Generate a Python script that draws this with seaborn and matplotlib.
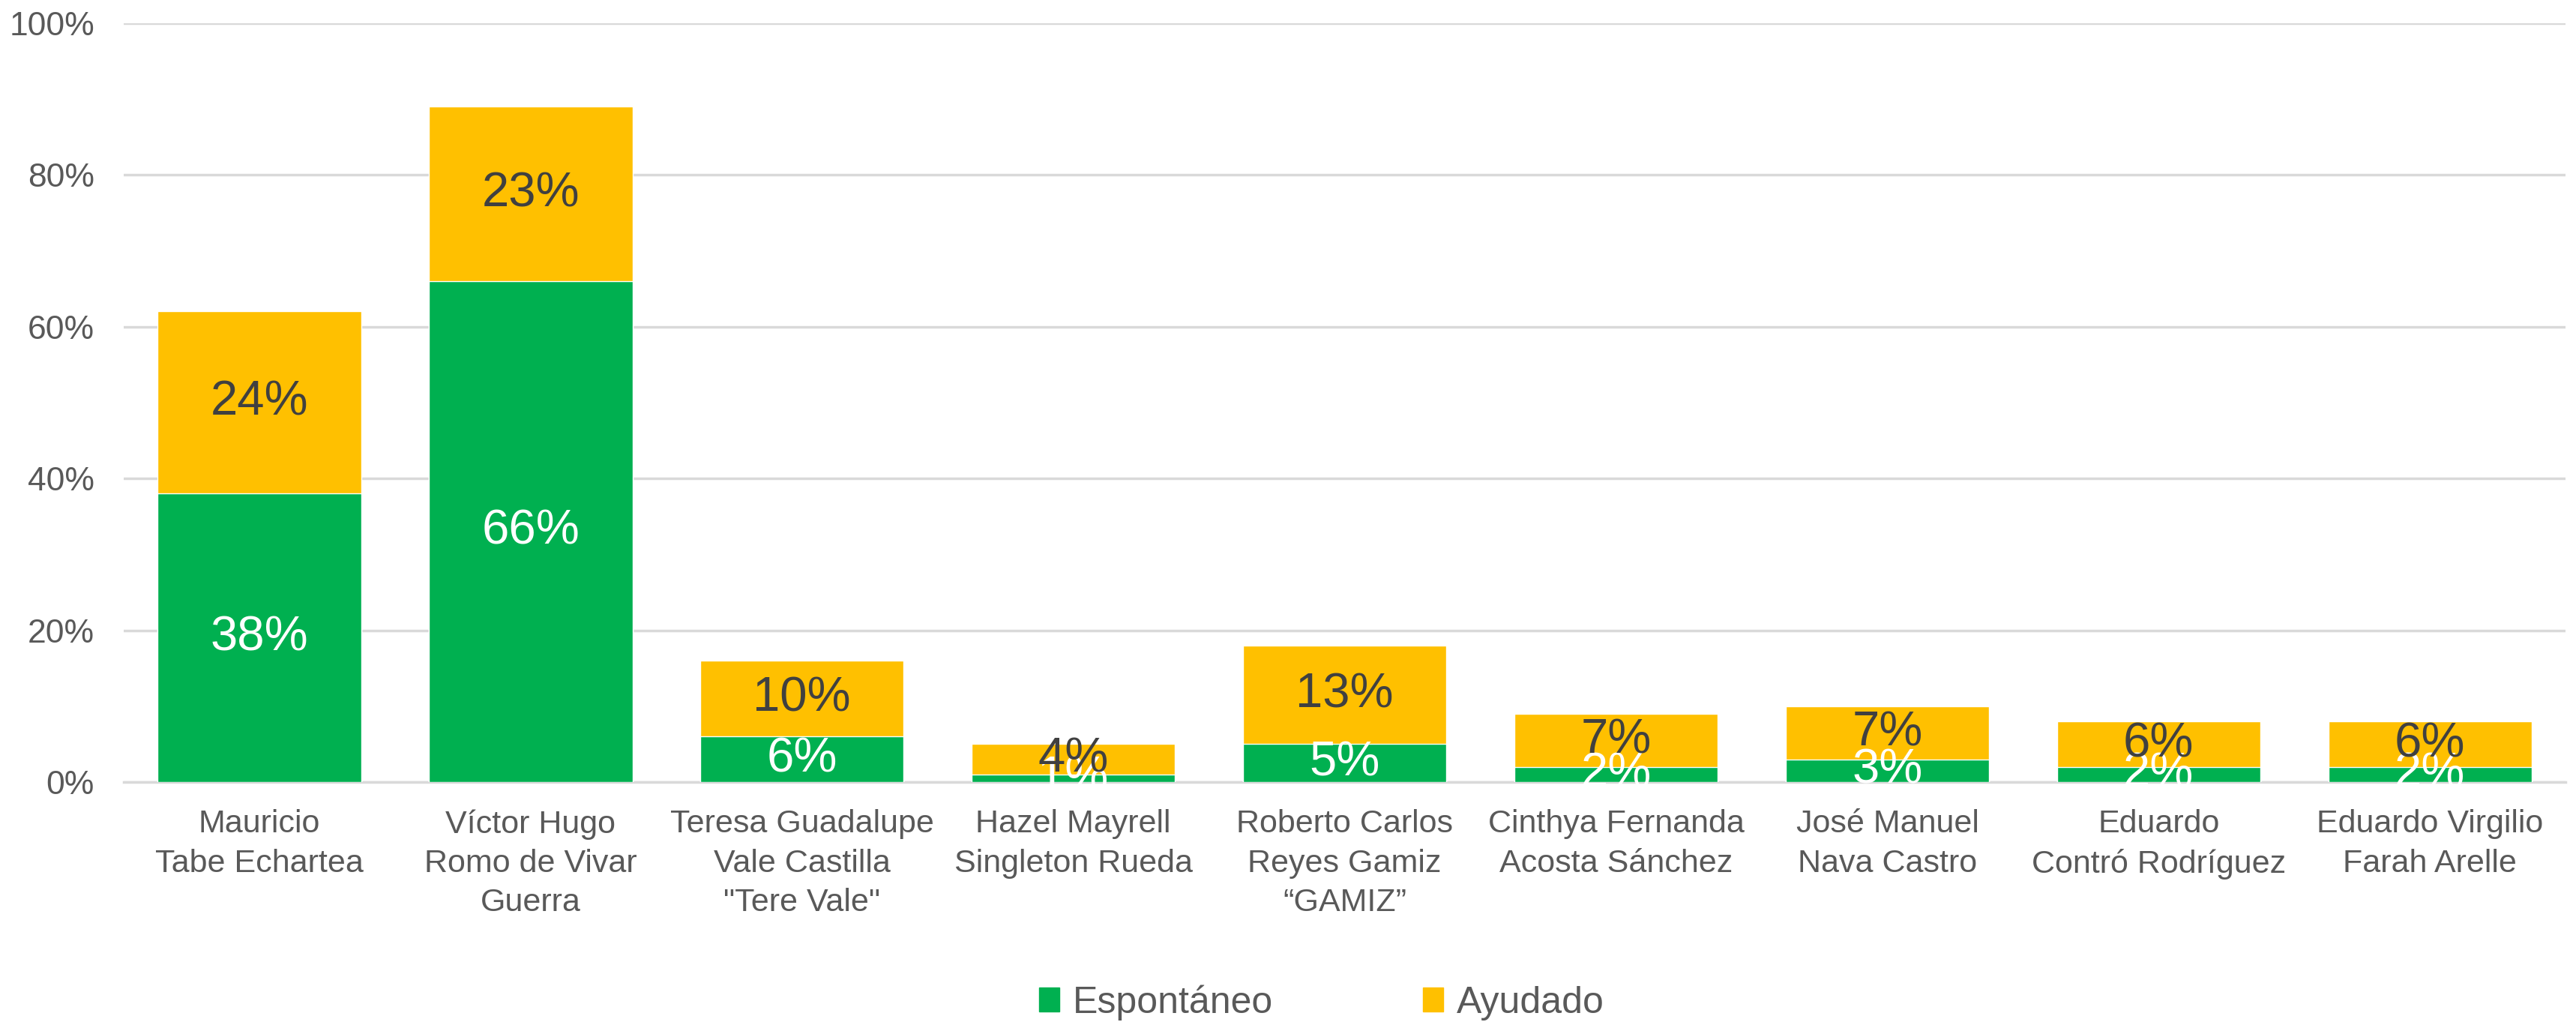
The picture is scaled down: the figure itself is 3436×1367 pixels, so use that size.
import pandas as pd
import matplotlib
matplotlib.use('Agg')
import matplotlib.pyplot as plt
import seaborn as sns
from matplotlib.patches import Patch


candidatos = [
    'Mauricio\nTabe Echartea',
    'Víctor Hugo\nRomo de Vivar\nGuerra',
    'Teresa Guadalupe\nVale Castilla\n"Tere Vale"',
    'Hazel Mayrell\nSingleton Rueda',
    'Roberto Carlos\nReyes Gamiz\n“GAMIZ”',
    'Cinthya Fernanda\nAcosta Sánchez',
    'José Manuel\nNava Castro',
    'Eduardo\nContró Rodríguez',
    'Eduardo Virgilio\nFarah Arelle',
]
espontaneo = [38, 66, 6, 1, 5, 2, 3, 2, 2]
ayudado = [24, 23, 10, 4, 13, 7, 7, 6, 6]
y_ticks = [0, 20, 40, 60, 80, 100]

VERDE = '#00B050'
AMARILLO = '#FFC000'
GRIS_TEXTO = '#595959'
GRIS_LINEA = '#D9D9D9'

sns.set_style('white')
plt.rcParams['font.family'] = ['Liberation Sans', 'DejaVu Sans']

df = pd.DataFrame({'candidato': candidatos, 'espontaneo': espontaneo, 'ayudado': ayudado})
df['total'] = df['espontaneo'] + df['ayudado']

fig, ax = plt.subplots(figsize=(34.36, 13.67), dpi=100)
fig.subplots_adjust(left=0.048, right=0.996, top=0.9775, bottom=0.237)

# total bar in yellow, then green on top of it from zero
sns.barplot(data=df, x='candidato', y='total', color=AMARILLO, saturation=1, width=0.75, ax=ax, zorder=3)
sns.barplot(data=df, x='candidato', y='espontaneo', color=VERDE, saturation=1, width=0.75, ax=ax, zorder=3)

for i, row in df.iterrows():
    ax.text(i, row['espontaneo'] / 2, f"{row['espontaneo']}%", ha='center', va='center',
            color='white', fontsize=47, zorder=5)
    ax.text(i, row['espontaneo'] + row['ayudado'] / 2, f"{row['ayudado']}%", ha='center', va='center',
            color='#404040', fontsize=47, zorder=5)

ax.set_ylim(0, 100)
ax.set_xlim(-0.5, len(candidatos) - 0.5)
ax.set_yticks(y_ticks)
ax.set_yticklabels([f'{t}%' for t in y_ticks])
ax.yaxis.grid(True, color=GRIS_LINEA, linewidth=2.5, zorder=0)
ax.set_axisbelow(True)
ax.set_xlabel('')
ax.set_ylabel('')
for side in ['left', 'right', 'top']:
    ax.spines[side].set_visible(False)
ax.spines['bottom'].set_color(GRIS_LINEA)
ax.spines['bottom'].set_linewidth(2.5)
ax.tick_params(axis='y', length=0, pad=28, labelsize=32, labelcolor=GRIS_TEXTO)
ax.tick_params(axis='x', length=0, pad=26, labelsize=31, labelcolor=GRIS_TEXTO)
for lbl in ax.get_xticklabels():
    lbl.set_linespacing(1.4)

handles = [Patch(color=VERDE, label='Espontáneo'), Patch(color=AMARILLO, label='Ayudado')]
fig.legend(handles=handles, loc='center', bbox_to_anchor=(0.513, 0.022), ncol=2, frameon=False,
           fontsize=36, labelcolor=GRIS_TEXTO, handlelength=0.55, handleheight=0.6,
           handletextpad=0.35, columnspacing=4.0)

fig.savefig('out.png', dpi=100)
